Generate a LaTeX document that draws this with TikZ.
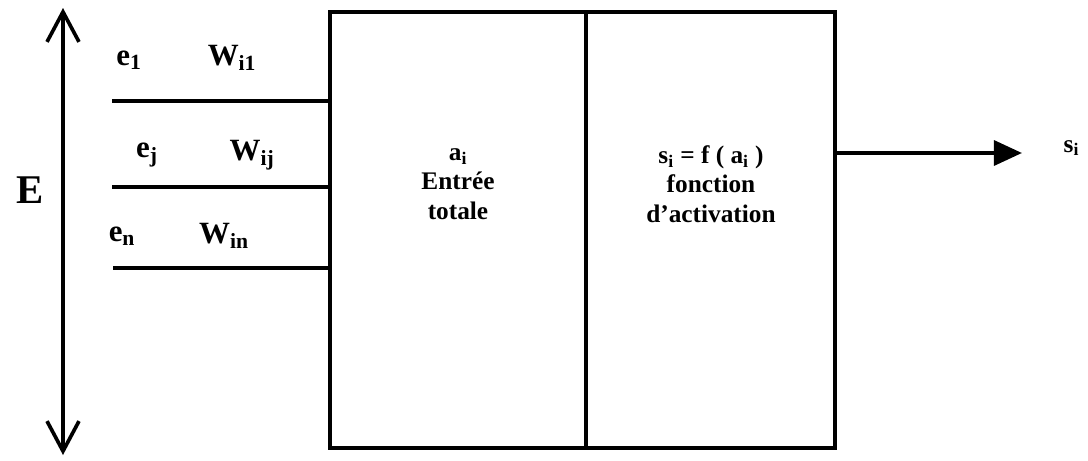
\documentclass[tikz,border=0pt]{standalone}
\usepackage{fontspec}
\setmainfont{Liberation Serif}
\usepackage{tikz}
\usetikzlibrary{arrows.meta,positioning,calc}

\begin{document}
\begin{tikzpicture}[
        x=0.025cm, y=-0.025cm,
        cellule/.style={
            draw=black,
            line width=2.8pt,
            minimum height=10.9cm,
            inner sep=0pt
        },
        entree/.style={
            line width=2.8pt
        },
        poids/.style={
            font=\fontsize{22}{25}\selectfont\bfseries,
            inner sep=1pt
        },
        texte/.style={
            align=center,
            font=\fontsize{18}{21}\selectfont\bfseries,
            inner sep=1pt
        },
        fleche/.style={
            -{Triangle[length=0.7cm,width=0.62cm]},
            line width=2.8pt
        },
        double/.style={
            {Straight Barb[length=0.75cm,width=0.8cm,line width=2.6pt]}-{Straight Barb[length=0.75cm,width=0.8cm,line width=2.6pt]},
            line width=2.4pt
        }
    ]
    \useasboundingbox (0,0) rectangle (1088,461);

    % le neurone : deux cellules
    \node[cellule, minimum width=6.4cm] (somme) at (458,230) {};
    \node[cellule, minimum width=6.225cm] (activ) at (710.5,230) {};

    \node[texte] (txtsomme) at (458,184)
        {a\textsubscript{i}\\ Entrée\\ totale};
    \node[texte] (txtactiv) at (711,184)
        {s\textsubscript{i} = f ( a\textsubscript{i} )\\ fonction\\ d'activation};

    % vecteur d'entree E
    \coordinate (Ehaut) at (63,8);
    \coordinate (Ebas) at (63,455);
    \draw[double] (Ehaut) -- (Ebas);
    \node[font=\fontsize{29}{32}\selectfont\bfseries] (E) at (30,190) {E};

    % entrees ponderees
    \coordinate (in1) at (112,101);
    \coordinate (inj) at (112,187);
    \coordinate (inn) at (113,268);
    \draw[entree] (in1) -- (in1 -| somme.west);
    \draw[entree] (inj) -- (inj -| somme.west);
    \draw[entree] (inn) -- (inn -| somme.west);

    \node[poids] (e1) at (129,60) {e\textsubscript{1}};
    \node[poids] (w1) at (232,58) {W\textsubscript{i1}};
    \node[poids] (ej) at (147,155) {e\textsubscript{j}};
    \node[poids] (wj) at (252,155) {W\textsubscript{ij}};
    \node[poids] (en) at (122,236) {e\textsubscript{n}};
    \node[poids] (wn) at (224,236) {W\textsubscript{in}};

    % sortie
    \coordinate (out) at (1022,153);
    \draw[fleche] (activ.east |- out) -- (out);
    \node[texte, anchor=west] (si) at (1062,148) {s\textsubscript{i}};

\end{tikzpicture}
\end{document}
